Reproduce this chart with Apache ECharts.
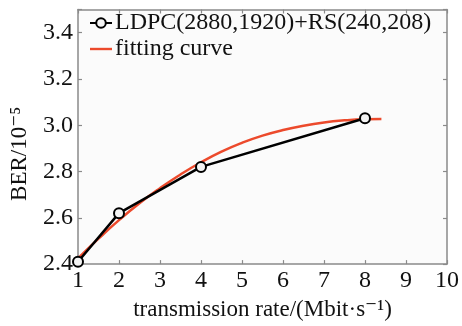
<!DOCTYPE html>
<html>
<head>
<meta charset="utf-8">
<script src="https://cdn.jsdelivr.net/npm/echarts@6/dist/echarts.min.js"></script>
<style>
  html, body { margin: 0; padding: 0; background: #ffffff; }
  #chart { width: 462px; height: 326px; }
</style>
</head>
<body>
<div id="chart"></div>
<script>
// Measured BER for LDPC(2880,1920)+RS(240,208) at each transmission rate
const rates = [1, 2, 4, 8];
const berMeasured = [2.41, 2.62, 2.82, 3.03];

// Fitted curve sampled along the rate axis
const fitRates = [1, 1.5, 2, 2.5, 3, 3.5, 4, 4.5, 5, 5.5, 6, 6.5, 7, 7.5, 8, 8.4];
const fitBer = [2.425, 2.51, 2.59, 2.663, 2.728, 2.787, 2.84, 2.886, 2.924, 2.955, 2.979, 2.998, 3.012, 3.021, 3.026, 3.027];

const xTicks = [1, 2, 3, 4, 5, 6, 7, 8, 9, 10];
const yTicks = [2.4, 2.6, 2.8, 3.0, 3.2, 3.4];

const FONT = '"Liberation Serif", "DejaVu Serif", serif';
const AXIS_GRAY = '#8a8a8a';
const TEXT = '#111';
const FIT_RED = '#ec4a2c';

const chart = echarts.init(document.getElementById('chart'), null, { renderer: 'canvas' });

const boxAxisLine = { show: true, lineStyle: { color: AXIS_GRAY, width: 1.5 } };
const boxTick = { show: true, inside: true, length: 4, lineStyle: { color: AXIS_GRAY, width: 1.2 } };

chart.setOption({
  backgroundColor: '#ffffff',
  animation: false,
  grid: { left: 78, right: 12, top: 9.5, bottom: 55.5, show: true, backgroundColor: '#fbfbfb', borderWidth: 0 },
  legend: {
    left: 89, top: 11, padding: 0, orient: 'vertical', itemGap: 2, itemWidth: 22, itemHeight: 12,
    textStyle: { fontFamily: FONT, fontSize: 24, color: TEXT, padding: [0, 0, 0, -2] },
    data: [
      { name: 'LDPC(2880,1920)+RS(240,208)' },
      { name: 'fitting curve', icon: 'path://M0,0H24V2.6H0Z', itemStyle: { color: FIT_RED } }
    ]
  },
  xAxis: [{
    type: 'value', min: xTicks[0], max: xTicks[xTicks.length - 1], interval: 1,
    name: 'transmission rate/(Mbit·s⁻¹)', nameLocation: 'middle', nameGap: 33,
    nameTextStyle: { fontFamily: FONT, fontSize: 23, color: TEXT },
    axisLine: boxAxisLine, axisTick: boxTick, splitLine: { show: false },
    axisLabel: { fontFamily: FONT, fontSize: 24, color: TEXT, margin: 5 }
  }, {
    type: 'value', position: 'top', min: xTicks[0], max: xTicks[xTicks.length - 1], interval: 1,
    axisLine: boxAxisLine, axisTick: boxTick, axisLabel: { show: false }, splitLine: { show: false }
  }],
  yAxis: [{
    type: 'value', min: 2.4, max: 3.5, interval: 0.2,
    name: 'BER/10⁻⁵', nameLocation: 'middle', nameGap: 47, nameRotate: 90,
    nameTextStyle: { fontFamily: FONT, fontSize: 23, color: TEXT, padding: [0, 34, 0, 0] },
    axisLine: boxAxisLine, axisTick: boxTick, splitLine: { show: false },
    axisLabel: {
      fontFamily: FONT, fontSize: 24, color: TEXT, margin: 5,
      formatter: v => (yTicks.some(t => Math.abs(t - v) < 1e-6) ? v.toFixed(1) : '')
    }
  }, {
    type: 'value', position: 'right', min: 2.4, max: 3.5, interval: 0.2,
    axisLine: boxAxisLine, axisTick: boxTick, axisLabel: { show: false }, splitLine: { show: false }
  }],
  series: [{
    name: 'LDPC(2880,1920)+RS(240,208)',
    type: 'line',
    data: rates.map((r, i) => [r, berMeasured[i]]),
    symbol: 'circle', symbolSize: 10,
    lineStyle: { color: '#000', width: 2.5 },
    itemStyle: { color: '#f4f4f4', borderColor: '#000', borderWidth: 2 },
    z: 3
  }, {
    name: 'fitting curve',
    type: 'line',
    data: fitRates.map((r, i) => [r, fitBer[i]]),
    smooth: true, symbol: 'none', symbolKeepAspect: true,
    lineStyle: { color: FIT_RED, width: 2.5 },
    itemStyle: { color: FIT_RED },
    z: 2
  }]
});
</script>
</body>
</html>
